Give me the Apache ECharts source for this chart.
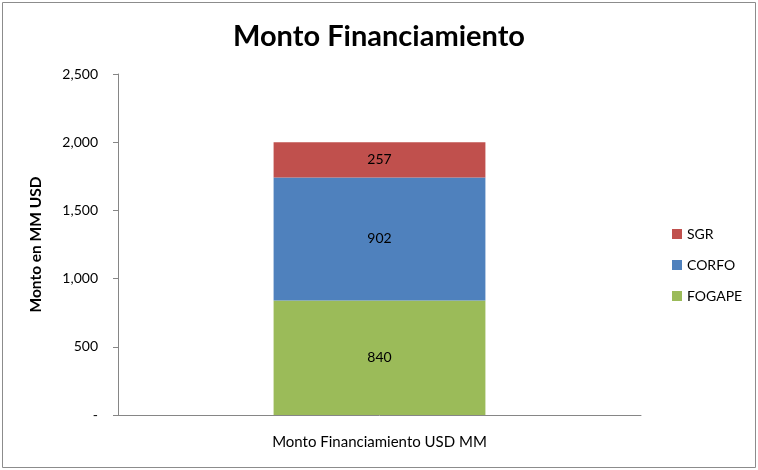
<!DOCTYPE html>
<html>
<head>
<meta charset="utf-8">
<script src="https://cdn.jsdelivr.net/npm/echarts@6/dist/echarts.min.js"></script>
<style>
  html, body { margin: 0; padding: 0; background: #fff; }
  #target { width: 758px; height: 470px; }
</style>
</head>
<body>
<div id="target"></div>
<script>
// datos del gráfico
const categories = ["Monto Financiamiento USD MM"];
const fogape = [840];
const corfo = [902];
const sgr = [257];
const legendOrder = ["SGR", "CORFO", "FOGAPE"];

const font = "Lato, 'Open Sans', sans-serif";
const myChart = echarts.init(document.getElementById("target"));

const label = {
  show: true,
  position: "inside",
  color: "#000",
  fontSize: 14,
  fontFamily: font,
};

const options = {
  animation: false,
  textStyle: { fontFamily: font },
  title: {
    text: "Monto Financiamiento",
    left: "center",
    top: 17,
    textStyle: { fontSize: 29, fontWeight: "bold", color: "#000", fontFamily: font },
  },
  legend: {
    data: legendOrder,
    orient: "vertical",
    left: 667,
    top: 222,
    itemWidth: 10,
    itemHeight: 10,
    itemGap: 17,
    icon: "rect",
    textStyle: { fontSize: 14, color: "#000", fontFamily: font },
  },
  grid: { left: 118, right: 117, top: 74, bottom: 55 },
  xAxis: {
    type: "category",
    data: categories,
    axisLine: { lineStyle: { color: "#868686" } },
    axisTick: { lineStyle: { color: "#868686" }, length: 5 },
    axisLabel: { color: "#000", fontSize: 15, margin: 20 },
  },
  yAxis: {
    type: "value",
    min: 0,
    max: 2500,
    interval: 500,
    name: "Monto en MM USD",
    nameLocation: "middle",
    nameGap: 74,
    nameTextStyle: { fontSize: 15.5, fontWeight: "bold", color: "#000" },
    axisLine: { show: true, lineStyle: { color: "#868686" } },
    axisTick: { show: true, lineStyle: { color: "#868686" }, length: 5 },
    splitLine: { show: false },
    axisLabel: {
      color: "#000",
      fontSize: 14,
      margin: 20,
      formatter: (v) => (v === 0 ? "-" : v.toLocaleString("en-US")),
    },
  },
  graphic: [
    {
      type: "rect",
      shape: { x: 2.5, y: 2.5, width: 753, height: 465 },
      style: { fill: "none", stroke: "#8c8c8c", lineWidth: 1 },
      silent: true,
    },
  ],
  series: [
    { name: "FOGAPE", type: "bar", stack: "t", data: fogape, barWidth: "40.5%", itemStyle: { color: "#9BBB59" }, label },
    { name: "CORFO", type: "bar", stack: "t", data: corfo, itemStyle: { color: "#4F81BD" }, label },
    { name: "SGR", type: "bar", stack: "t", data: sgr, itemStyle: { color: "#C0504D" }, label },
  ],
};

myChart.setOption(options);
</script>
</body>
</html>
